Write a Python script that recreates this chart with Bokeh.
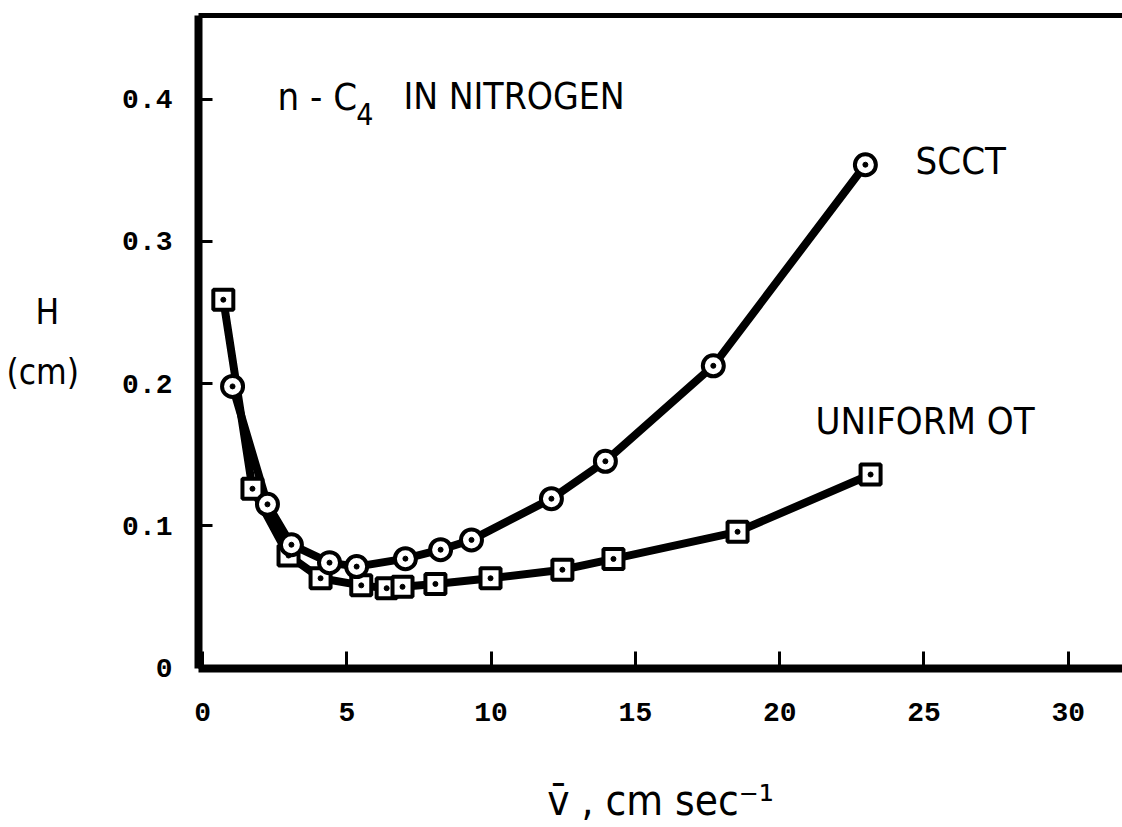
from bokeh.plotting import figure
from bokeh.models import LinearAxis, FixedTicker, Range1d, Label
from bokeh.embed import file_html
from bokeh.resources import INLINE

# ---- data ----
scct_x = [1.04, 2.25, 3.08, 4.40, 5.34, 7.03, 8.25, 9.32, 12.09, 13.96, 17.70, 22.97]
scct_y = [0.198, 0.115, 0.0866, 0.074, 0.0712, 0.0768, 0.0831, 0.090, 0.119, 0.1453, 0.2125, 0.354]

uniform_x = [0.72, 1.73, 2.98, 4.09, 5.50, 6.38, 6.93, 8.07, 9.98, 12.47, 14.24, 18.54, 23.15]
uniform_y = [0.259, 0.126, 0.079, 0.063, 0.058, 0.056, 0.057, 0.059, 0.063, 0.069, 0.0766, 0.0957, 0.136]

x_ticks = [0, 5, 10, 15, 20, 25, 30]
y_ticks = [0, 0.1, 0.2, 0.3, 0.4]
y_tick_labels = ["0", "0.1", "0.2", "0.3", "0.4"]

LETTER = "DejaVu Sans Condensed"
MONO = "Liberation Mono"

p = figure(width=1122, height=827, output_backend="svg", toolbar_location=None,
           x_range=Range1d(-0.14, 31.88), y_range=Range1d(-0.0005, 0.459),
           min_border_left=198, min_border_right=0, min_border_top=15,
           min_border_bottom=157)
p.grid.visible = False
p.outline_line_color = None
p.background_fill_color = "white"
p.border_fill_color = "white"

xa = p.xaxis[0]
xa.ticker = FixedTicker(ticks=x_ticks)
xa.axis_line_width = 8
xa.axis_line_color = "black"
xa.major_tick_in = 17
xa.major_tick_out = 0
xa.major_tick_line_width = 3
xa.minor_tick_in = 0
xa.minor_tick_out = 0
xa.major_label_text_font = MONO
xa.major_label_text_font_style = "bold"
xa.major_label_text_font_size = "28px"
xa.major_label_text_color = "black"
xa.major_label_standoff = 34
xa.axis_label = "v\u0304 , cm sec\u207b\u00b9"
xa.axis_label_text_font = LETTER
xa.axis_label_text_font_style = "normal"
xa.axis_label_text_font_size = "42px"
xa.axis_label_text_color = "black"
xa.axis_label_standoff = 52

ya = p.yaxis[0]
ya.ticker = FixedTicker(ticks=y_ticks)
ya.major_label_overrides = {t: l for t, l in zip(y_ticks, y_tick_labels)}
ya.axis_line_width = 8
ya.axis_line_color = "black"
ya.major_tick_in = 14
ya.major_tick_out = 0
ya.major_tick_line_width = 3
ya.minor_tick_in = 0
ya.minor_tick_out = 0
ya.major_label_text_font = MONO
ya.major_label_text_font_style = "bold"
ya.major_label_text_font_size = "28px"
ya.major_label_text_color = "black"
ya.major_label_standoff = 26
ya.axis_label = "H\u00a0\u00a0\n(cm)"
ya.axis_label_text_font = LETTER
ya.axis_label_text_font_style = "normal"
ya.axis_label_text_font_size = "35px"
ya.axis_label_text_color = "black"
ya.axis_label_text_line_height = 1.5
ya.axis_label_text_align = "center"
ya.axis_label_standoff = 40
try:
    ya.axis_label_orientation = "horizontal"
except Exception:
    pass

top = LinearAxis(ticker=FixedTicker(ticks=[]), axis_line_width=5, axis_line_color="black",
                 major_tick_in=0, major_tick_out=0, minor_tick_in=0, minor_tick_out=0,
                 major_label_standoff=0)
p.add_layout(top, "above")

# curves
p.line(uniform_x, uniform_y, line_width=8, line_color="black", line_join="round", line_cap="round")
p.line(scct_x, scct_y, line_width=8, line_color="black", line_join="round", line_cap="round")

# markers
p.scatter(uniform_x, uniform_y, marker="square", size=20, fill_color="white",
          line_color="black", line_width=4)
p.scatter(uniform_x, uniform_y, marker="circle", size=5, fill_color="black", line_color="black")
p.scatter(scct_x, scct_y, marker="circle", size=21, fill_color="white",
          line_color="black", line_width=4)
p.scatter(scct_x, scct_y, marker="circle", size=5, fill_color="black", line_color="black")

def lab(x, y, text, size, align="left", baseline="middle"):
    p.add_layout(Label(x=x, y=y, text=text, text_font=LETTER, text_font_size=size,
                       text_align=align, text_baseline=baseline, text_color="black"))

lab(24.71, 0.3565, "SCCT", "38px")
lab(21.24, 0.1739, "UNIFORM OT", "38px")
lab(2.60, 0.402, "n - C", "38px")
lab(5.33, 0.390, "4", "30px")
lab(6.96, 0.402, "IN NITROGEN", "37px")

open("out.html", "w").write(file_html(p, INLINE))
